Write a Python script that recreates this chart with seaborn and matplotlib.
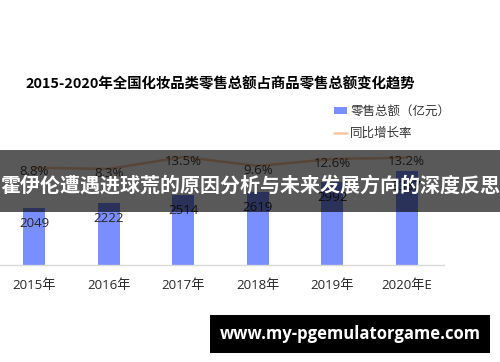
import numpy as np
import matplotlib
matplotlib.use("Agg")
import matplotlib.pyplot as plt
import matplotlib.patches as mpatches
import matplotlib.lines as mlines
import seaborn as sns

# ---- data ----
years = ["2015年", "2016年", "2017年", "2018年", "2019年", "2020年E"]
retail_total = [2049, 2222, 2514, 2619, 2992, 3387]     # 零售总额（亿元）
yoy_growth = [8.8, 8.3, 13.5, 9.6, 12.6, 13.2]          # 同比增长率（%）

title_text = "2015-2020年全国化妆品类零售总额占商品零售总额变化趋势"
banner_text = "霍伊伦遭遇进球荒的原因分析与未来发展方向的深度反思"
site_text = "www.my-pgemulatorgame.com"
legend_labels = ["零售总额（亿元）", "同比增长率"]

# ---- style ----
sns.set_theme(style="white")
FONTS = ["Open Sans", "Noto Sans CJK SC", "DejaVu Sans"]
CJK = ["Noto Sans CJK SC", "DejaVu Sans"]
plt.rcParams["font.family"] = FONTS
plt.rcParams["axes.unicode_minus"] = False

BAR_COLOR = "#7A8FFF"
LINE_COLOR = "#F7C6A3"
TEXT_COLOR = "#262626"

W, H = 500, 362
fig = plt.figure(figsize=(W / 100, H / 100), dpi=100)
fig.patch.set_facecolor("white")

# plot area in pixel terms: x from -3 to 444, y from 145 (top) to 265 (baseline)
left_px, right_px, top_px, base_px = -3, 444, 145, 265
ax = fig.add_axes([left_px / W, (H - base_px) / H,
                   (right_px - left_px) / W, (base_px - top_px) / H])

positions = np.arange(len(years))
sns.barplot(x=years, y=retail_total, ax=ax, color=BAR_COLOR,
            width=0.3, saturation=1, edgecolor="none")
ax.set_xlim(-0.5, len(years) - 0.5)
ax.set_ylim(0, 4330)

# bar value labels inside the top of each bar
for xi, v in zip(positions, retail_total):
    ax.annotate(f"{v}", xy=(xi, v), xytext=(0, -11), textcoords="offset points",
                ha="center", va="center", fontsize=9.5, color=TEXT_COLOR)

# axes cosmetics
for s in ("left", "right", "top"):
    ax.spines[s].set_visible(False)
ax.spines["bottom"].set_color("#D9D9D9")
ax.spines["bottom"].set_linewidth(1.0)
ax.set_yticks([])
ax.set_xlabel("")
ax.set_ylabel("")
ax.set_xticks(positions)
ax.set_xticklabels(years, fontsize=9.5, color=TEXT_COLOR, family=FONTS)
ax.set_xticks(np.arange(-0.5, len(years)), minor=True)
ax.tick_params(axis="x", which="major", length=0, pad=10)
ax.tick_params(axis="x", which="minor", length=3.6, width=1.0, color="#D9D9D9")

# growth-rate line on a secondary axis
ax2 = ax.twinx()
sns.lineplot(x=positions, y=yoy_growth, ax=ax2, color=LINE_COLOR, linewidth=1.8)
ax2.set_ylim(-33.5, 18.7)
ax2.set_yticks([])
ax2.set_ylabel("")
for s in ("left", "right", "top", "bottom"):
    ax2.spines[s].set_visible(False)
for xi, v in zip(positions, yoy_growth):
    ax2.annotate(f"{v:.1f}%", xy=(xi, v), xytext=(0, -3), textcoords="offset points",
                 ha="center", va="center", fontsize=9.5, color="#404040")

# legend
handles = [mpatches.Patch(facecolor=BAR_COLOR, edgecolor="none"),
           mlines.Line2D([], [], color=LINE_COLOR, linewidth=1.8)]
leg = fig.legend(handles, legend_labels, loc="upper left",
                 bbox_to_anchor=(334 / W, (H - 105) / H), frameon=False,
                 prop={"family": CJK, "size": 9}, handlelength=1.05,
                 handleheight=0.5, handletextpad=0.25, labelspacing=0.7,
                 borderaxespad=0, borderpad=0)
for t in leg.get_texts():
    t.set_color("#333333")

# title
fig.text(25 / W, (H - 84) / H, title_text, ha="left", va="center",
         fontsize=10.4, fontweight="bold", color="black", family=CJK)

# translucent banner across the chart
fig.patches.append(mpatches.Rectangle((0, (H - 212) / H), 1, 62 / H,
                                      transform=fig.transFigure, facecolor="black",
                                      alpha=0.65, edgecolor="none", zorder=10))
fig.text(0.5, (H - 185) / H, banner_text, ha="center", va="center",
         fontsize=14.4, fontweight="bold", color="white", family=CJK, zorder=11)

# site box at bottom right
fig.patches.append(mpatches.Rectangle((210 / W, (H - 353) / H), 280 / W, 38 / H,
                                      transform=fig.transFigure, facecolor="black",
                                      edgecolor="none", zorder=10))
fig.text(350 / W, (H - 334) / H, site_text, ha="center", va="center",
         fontsize=12, fontweight="bold", color="white", family=FONTS, zorder=11)

fig.savefig("out.png", dpi=100, facecolor="white")
